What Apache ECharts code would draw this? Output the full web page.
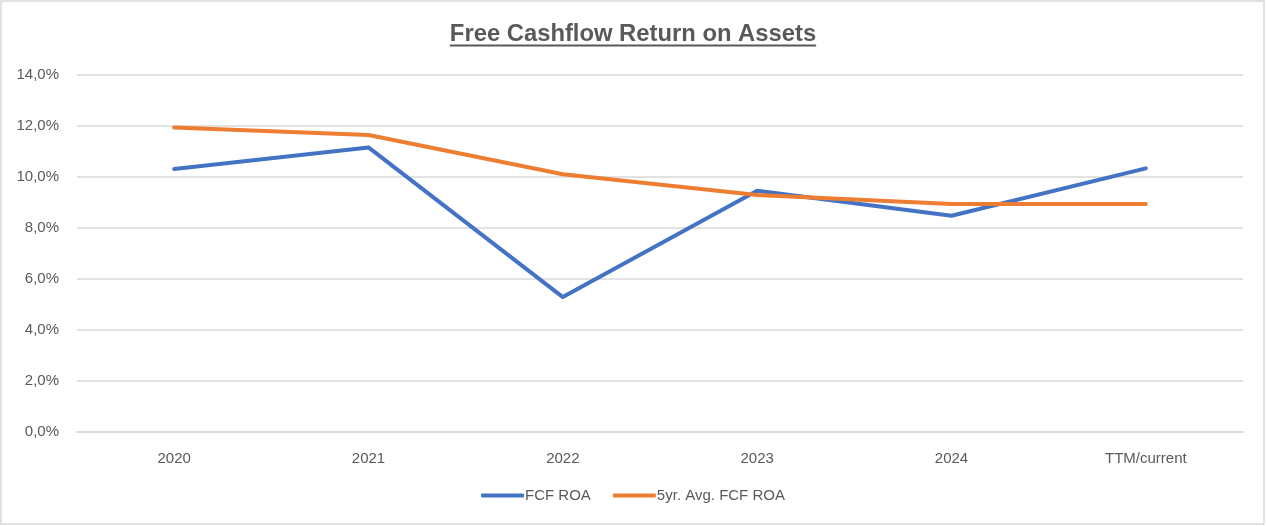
<!DOCTYPE html>
<html>
<head>
<meta charset="utf-8">
<script src="https://cdn.jsdelivr.net/npm/echarts@6/dist/echarts.min.js"></script>
<style>
html,body{margin:0;padding:0;background:#fff;}
#c{width:1266px;height:526px;}
</style>
</head>
<body>
<div id="c"></div>
<script>
const categories = ['2020', '2021', '2022', '2023', '2024', 'TTM/current'];
const fcfRoa = [10.31, 11.16, 5.29, 9.46, 8.48, 10.34];
const avgFcfRoa = [11.94, 11.65, 10.11, 9.29, 8.94, 8.94];
const seriesNames = ['FCF ROA', '5yr. Avg. FCF ROA'];
const titleText = 'Free Cashflow Return on Assets';

const FONT = '"Liberation Sans", Arial, sans-serif';
const TXT = '#595959';
const titleSize = 23.8;

const cv = document.createElement('canvas').getContext('2d');
cv.font = 'bold ' + titleSize + 'px ' + FONT;
const tw = cv.measureText(titleText).width;

const chart = echarts.init(document.getElementById('c'));
chart.setOption({
  backgroundColor: '#fff',
  animation: false,
  title: {
    text: titleText, left: 'center', top: 17,
    textStyle: {fontFamily: FONT, fontSize: titleSize, fontWeight: 'bold', color: TXT}
  },
  graphic: [
    {type: 'rect', shape: {x: 1, y: 1, width: 1263, height: 523}, style: {fill: 'none', stroke: '#d9d9d9', lineWidth: 1.5}},
    {type: 'line', shape: {x1: 633 - tw / 2, y1: 45.5, x2: 633 + tw / 2, y2: 45.5}, style: {stroke: TXT, lineWidth: 2}}
  ],
  grid: {left: 77, right: 23, top: 75, bottom: 94},
  legend: {
    top: 483, left: 'center',
    itemWidth: 43, itemHeight: 4, itemGap: 22,
    icon: 'roundRect',
    textStyle: {fontFamily: FONT, fontSize: 15, color: TXT, padding: [0, 0, 0, -4]},
    data: seriesNames
  },
  xAxis: {
    type: 'category', data: categories, boundaryGap: true,
    axisLine: {show: true, lineStyle: {color: '#d9d9d9', width: 1.5}},
    axisTick: {show: false},
    axisLabel: {fontFamily: FONT, fontSize: 15, color: TXT, margin: 19}
  },
  yAxis: {
    type: 'value', min: 0, max: 14, interval: 2,
    axisLine: {show: false}, axisTick: {show: false},
    splitLine: {lineStyle: {color: '#d9d9d9', width: 1.5}},
    axisLabel: {fontFamily: FONT, fontSize: 15, color: TXT, margin: 18,
      formatter: v => v.toFixed(1).replace('.', ',') + '%'}
  },
  series: [
    {name: seriesNames[0], type: 'line', data: fcfRoa, symbol: 'none',
      lineStyle: {color: '#4472C4', width: 4, cap: 'round', join: 'round'}, itemStyle: {color: '#4472C4'}},
    {name: seriesNames[1], type: 'line', data: avgFcfRoa, symbol: 'none',
      lineStyle: {color: '#ED7D31', width: 4, cap: 'round', join: 'round'}, itemStyle: {color: '#ED7D31'}}
  ]
});
</script>
</body>
</html>
